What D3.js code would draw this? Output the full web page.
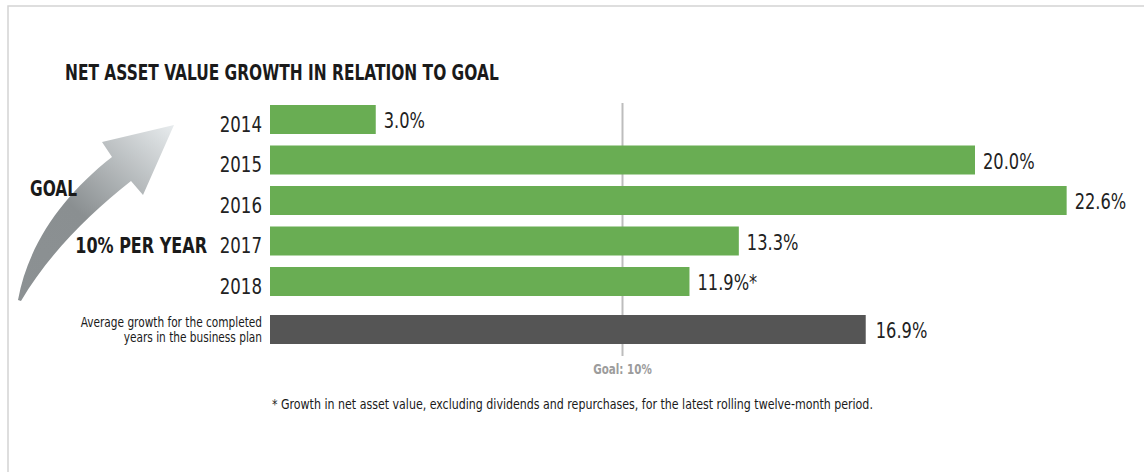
<!DOCTYPE html>
<html>
<head>
<meta charset="utf-8">
<script src="https://cdn.jsdelivr.net/npm/d3@7"></script>
<style>
  body { margin: 0; background: #fff; }
  text { font-family: "Liberation Sans Narrow", "DejaVu Sans Condensed", sans-serif; }
</style>
</head>
<body>
<script>
// data
var years = ["2014", "2015", "2016", "2017", "2018"];
var growth = [3.0, 20.0, 22.6, 13.3, 11.9];
var growthLabels = ["3.0%", "20.0%", "22.6%", "13.3%", "11.9%*"];
var avgLabel = ["Average growth for the completed", "years in the business plan"];
var avgValue = 16.9;
var goalValue = 10;

var W = 1144, H = 472;
var svg = d3.select("body").append("svg")
    .attr("width", W).attr("height", H);

// squeeze text horizontally, the original face is a condensed gothic
function squeeze(f) {
  return function(sel) {
    sel.attr("transform", function() {
      var t = d3.select(this);
      var tx = +t.attr("x"), ty = +t.attr("y");
      t.attr("x", 0).attr("y", 0);
      return "translate(" + tx + "," + ty + ") scale(" + f + ",1)";
    });
  };
}

// frame
svg.append("rect")
   .attr("x", 8).attr("y", 6).attr("width", W + 10).attr("height", H + 10)
   .attr("fill", "none").attr("stroke", "#d4d4d4").attr("stroke-width", 1.5);

var x = d3.scaleLinear().domain([0, 20]).range([270, 975]);
var y = d3.scaleBand().domain(years)
    .range([99.25, 301.75])
    .paddingInner(0.284).paddingOuter(0.142);
var avgY = y(years[years.length - 1]) + y.step() + 7.5;

// title
svg.append("text")
   .attr("x", 65).attr("y", 80)
   .attr("font-size", 22).attr("font-weight", "bold").attr("fill", "#1a1a1a")
   .text("NET ASSET VALUE GROWTH IN RELATION TO GOAL")
   .call(squeeze(0.78));

// arrow
var grad = svg.append("defs").append("linearGradient")
   .attr("id", "arrowGrad").attr("gradientUnits", "userSpaceOnUse")
   .attr("x1", 18).attr("y1", 300).attr("x2", 175).attr("y2", 125);
grad.append("stop").attr("offset", "0%").attr("stop-color", "#8c9193");
grad.append("stop").attr("offset", "45%").attr("stop-color", "#8a8f91");
grad.append("stop").attr("offset", "100%").attr("stop-color", "#e8ecee");
svg.append("path")
   .attr("d", "M18,300 C28,245 62,196 112,157 L102,142 L174,125 L143,195 L131,181 C88,215 48,255 21,301 Z")
   .attr("fill", "url(#arrowGrad)");

svg.append("text").attr("x", 30).attr("y", 196)
   .attr("font-size", 22).attr("font-weight", "bold").attr("fill", "#1a1a1a")
   .text("GOAL")
   .call(squeeze(0.78));
svg.append("text").attr("x", 207).attr("y", 253).attr("text-anchor", "end")
   .attr("font-size", 22).attr("font-weight", "bold").attr("fill", "#1a1a1a")
   .text("10% PER YEAR")
   .call(squeeze(0.81));

// goal line
svg.append("line")
   .attr("x1", x(goalValue)).attr("x2", x(goalValue))
   .attr("y1", 103).attr("y2", 356)
   .attr("stroke", "#bdbdbd").attr("stroke-width", 2);
svg.append("text")
   .attr("x", x(goalValue)).attr("y", 374).attr("text-anchor", "middle")
   .attr("font-size", 13.5).attr("font-weight", 600).attr("fill", "#9c9c9c")
   .text("Goal: " + goalValue + "%")
   .call(squeeze(0.85));

// year bars
svg.selectAll("rect.bar")
   .data(growth)
   .enter()
   .append("rect")
   .attr("class", "bar")
   .attr("x", x(0))
   .attr("y", function(d, i) { return y(years[i]); })
   .attr("width", function(d) { return x(d) - x(0); })
   .attr("height", y.bandwidth())
   .attr("fill", "#69ad53");

svg.selectAll("text.year")
   .data(years)
   .enter()
   .append("text")
   .attr("class", "year")
   .attr("x", x(0) - 8)
   .attr("y", function(d) { return y(d) + y.bandwidth() / 2 + 12; })
   .attr("text-anchor", "end")
   .attr("font-size", 22).attr("fill", "#222")
   .text(function(d) { return d; })
   .call(squeeze(0.84));

svg.selectAll("text.val")
   .data(growth)
   .enter()
   .append("text")
   .attr("class", "val")
   .attr("x", function(d) { return x(d) + 8; })
   .attr("y", function(d, i) { return y(years[i]) + y.bandwidth() / 2 + 8.5; })
   .attr("font-size", 21).attr("fill", "#222")
   .text(function(d, i) { return growthLabels[i]; })
   .call(squeeze(0.86));

// average bar
svg.append("rect")
   .attr("x", x(0)).attr("y", avgY)
   .attr("width", x(avgValue) - x(0)).attr("height", y.bandwidth())
   .attr("fill", "#555555");
svg.append("text")
   .attr("x", x(avgValue) + 10).attr("y", avgY + y.bandwidth() / 2 + 8.5)
   .attr("font-size", 21).attr("fill", "#222")
   .text(avgValue.toFixed(1) + "%")
   .call(squeeze(0.86));
svg.selectAll("text.avg")
   .data(avgLabel)
   .enter()
   .append("text")
   .attr("class", "avg")
   .attr("x", x(0) - 8)
   .attr("y", function(d, i) { return avgY + 12 + i * 14.5; })
   .attr("text-anchor", "end")
   .attr("font-size", 13.5).attr("fill", "#1a1a1a")
   .text(function(d) { return d; })
   .call(squeeze(0.87));

// footnote
svg.append("text")
   .attr("x", 272).attr("y", 409)
   .attr("font-size", 13.5).attr("fill", "#1a1a1a")
   .text("* Growth in net asset value, excluding dividends and repurchases, for the latest rolling twelve-month period.")
   .call(squeeze(0.91));
</script>
</body>
</html>
